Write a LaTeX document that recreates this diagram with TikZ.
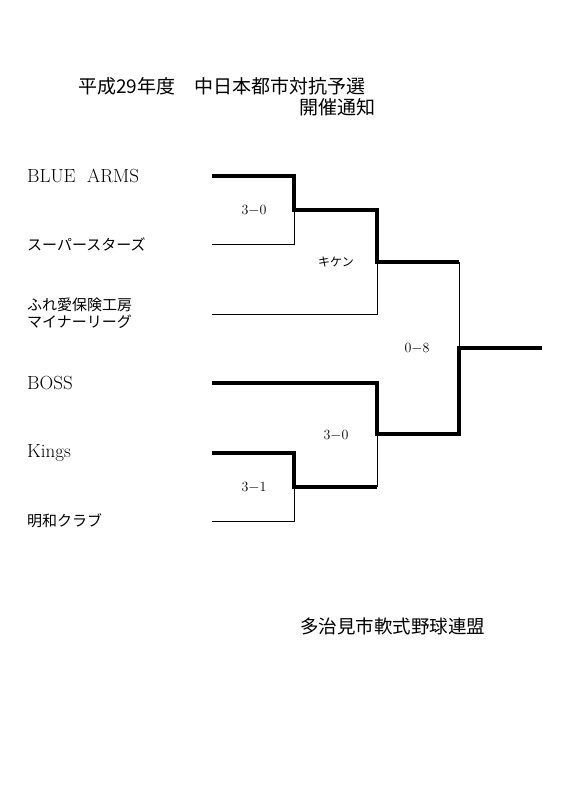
\documentclass[tikz,border=0pt]{standalone}
\usepackage{fontspec}
\newfontfamily\jp{Noto Sans CJK JP}
\begin{document}
\begin{tikzpicture}[x=1pt,y=-1pt,
  thickline/.style={line width=3.6pt,line cap=butt,line join=miter},
  thinline/.style={line width=1pt},
  team/.style={anchor=west,inner sep=0pt,font=\fontsize{19}{21}\selectfont},
  jteam/.style={anchor=west,inner sep=0pt,font=\jp\fontsize{15}{17}\selectfont},
  score/.style={inner sep=0pt,font=\fontsize{14}{16}\selectfont},
  jscore/.style={inner sep=0pt,font=\jp\fontsize{12}{14}\selectfont}]
\useasboundingbox (0,0) rectangle (565,800);
\fill[white] (0,0) rectangle (565,800);
% titles
\node[anchor=west,inner sep=0pt,font=\jp\fontsize{19}{21}\selectfont] (title) at (78,86) {平成29年度　中日本都市対抗予選};
\node[anchor=west,inner sep=0pt,font=\jp\fontsize{19}{21}\selectfont] (title2) at (299,107) {開催通知};
\node[anchor=west,inner sep=0pt,font=\jp\fontsize{18.5}{21}\selectfont] (org) at (300,626) {多治見市軟式野球連盟};
% teams
\node[team] (t1) at (27,176) {BLUE\ \ ARMS};
\node[jteam] (t2) at (27,244) {スーパースターズ};
\node[jteam,align=left] (t3) at (27,313) {ふれ愛保険工房\\マイナーリーグ};
\node[team] (t4) at (27,383) {BOSS};
\node[team] (t5) at (27,453) {Kings};
\node[jteam] (t6) at (27,521) {明和クラブ};
% bracket points
\coordinate (a1) at (212,176); \coordinate (a2) at (294,176);
\coordinate (a3) at (294,210); \coordinate (a4) at (377,210);
\coordinate (a5) at (377,262); \coordinate (a6) at (459,262);
\coordinate (a7) at (459,348); \coordinate (fin) at (542,348);
\coordinate (b1) at (212,244); \coordinate (b2) at (294,244);
\coordinate (c1) at (212,314); \coordinate (c2) at (377,314);
\coordinate (d1) at (212,383); \coordinate (d2) at (377,383);
\coordinate (d3) at (377,434); \coordinate (d4) at (459,434);
\coordinate (e1) at (212,453); \coordinate (e2) at (294,453);
\coordinate (e3) at (294,487); \coordinate (e4) at (377,487);
\coordinate (g1) at (212,521); \coordinate (g2) at (294,521);
% thin lines
\draw[thinline] (b1) -- (b2) -- (a3);
\draw[thinline] (c1) -- (c2) -- (a5);
\draw[thinline] (a6) -- (a7);
\draw[thinline] (g1) -- (g2) -- (e3);
\draw[thinline] (e4) -- (d3);
% thick lines
\draw[thickline] (a1) -- (a2) -- (a3) -- (a4) -- (a5) -- (a6);
\draw[thickline] (d1) -- (d2) -- (d3) -- (d4) -- (a7) -- (fin);
\draw[thickline] (e1) -- (e2) -- (e3) -- (e4);
% scores
\node[score] (s1) at (254,210) {3$-$0};
\node[jscore] (s2) at (336,262) {キケン};
\node[score] (s3) at (417,348) {0$-$8};
\node[score] (s4) at (336,435) {3$-$0};
\node[score] (s5) at (254,487) {3$-$1};
\end{tikzpicture}
\end{document}
